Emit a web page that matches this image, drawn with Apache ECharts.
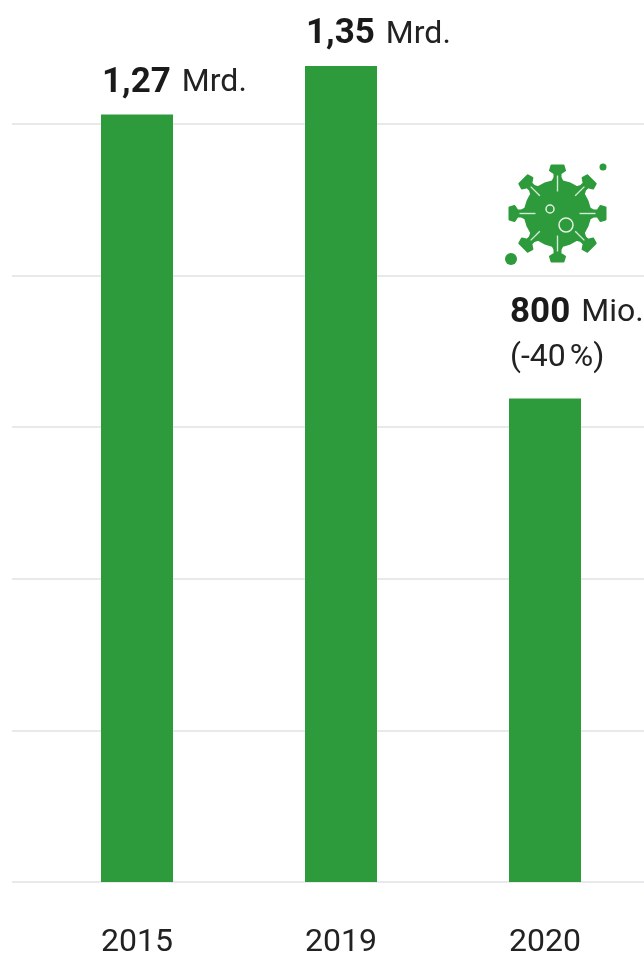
<!DOCTYPE html>
<html><head><meta charset="utf-8">
<style>html,body{margin:0;padding:0;background:#fff}#c{width:644px;height:955px}</style>
<script src="https://cdn.jsdelivr.net/npm/echarts@6/dist/echarts.min.js"></script>
</head><body><div id="c"></div>
<script>
const categories = ['2015', '2019', '2020'];
const values = [1.27, 1.35, 0.8];
const strongLabels = ['1,27', '1,35', '800'];
const unitLabels = ['Mrd.', 'Mrd.', 'Mio.'];
const noteLabels = ['', '', '(-40\u202f%)'];
const GREEN = '#2d9a3b';
const FONT = 'Roboto';

const chart = echarts.init(document.getElementById('c'), null, {renderer: 'canvas'});

const yBase = {type: 'value', min: 0, max: 1.25, interval: 0.25,
  axisLabel: {show: false}, axisLine: {show: false}, axisTick: {show: false}};

// virus icon
const cx = 557.5, cy = 213.5, kids = [];
for (let i = 0; i < 8; i++) {
  const a = i * Math.PI / 4, c = Math.cos(a), s = Math.sin(a);
  const pt = (r, w) => [cx + c * r - s * w, cy + s * r + c * w];
  kids.push({type: 'polygon', shape: {points: [
      pt(28, -7), pt(36, -3), pt(40, -3), pt(43, -7.5), pt(48, -6), pt(48, 6), pt(43, 7.5), pt(40, 3), pt(36, 3), pt(28, 7)
    ]},
    style: {fill: GREEN, stroke: GREEN, lineWidth: 2, lineJoin: 'round'}});
}
kids.push({type: 'circle', shape: {cx, cy, r: 33.5}, style: {fill: GREEN}});
for (let i = 0; i < 8; i++) {
  const a = i * Math.PI / 4, c = Math.cos(a), s = Math.sin(a);
  const inner = i % 2 ? 25 : 22;
  kids.push({type: 'line', shape: {x1: cx + c * inner, y1: cy + s * inner, x2: cx + c * 38, y2: cy + s * 38},
    style: {stroke: '#d3ead7', lineWidth: 1.4}});
}
kids.push({type: 'circle', shape: {cx: 550, cy: 209, r: 4}, style: {fill: GREEN, stroke: '#e2f1e4', lineWidth: 1.5}});
kids.push({type: 'circle', shape: {cx: 566, cy: 225, r: 7}, style: {fill: GREEN, stroke: '#e2f1e4', lineWidth: 1.5}});
kids.push({type: 'circle', shape: {cx: 603, cy: 167, r: 3.5}, style: {fill: GREEN}});
kids.push({type: 'circle', shape: {cx: 511, cy: 259, r: 6}, style: {fill: GREEN}});

chart.setOption({
  animation: false,
  backgroundColor: '#fff',
  grid: [
    {left: 12, right: 0, top: 124, bottom: 73, outerBoundsMode: 'none'},
    {left: 35, width: 612, top: 126.5, bottom: 73, outerBoundsMode: 'none'}
  ],
  xAxis: [
    {type: 'category', gridIndex: 0, data: categories, show: false},
    {type: 'category', gridIndex: 1, data: categories,
      axisLine: {show: false}, axisTick: {show: false},
      axisLabel: {margin: 43, fontFamily: FONT, fontSize: 32, color: '#222', lineHeight: 36, fontWeight: 400}}
  ],
  yAxis: [
    Object.assign({gridIndex: 0, splitLine: {show: true, lineStyle: {color: '#e7e9ea', width: 2}}}, yBase),
    Object.assign({gridIndex: 1, splitLine: {show: false}}, yBase)
  ],
  series: [{
    type: 'bar', xAxisIndex: 1, yAxisIndex: 1, clip: false, barWidth: 72,
    itemStyle: {color: GREEN},
    data: values.map((v, i) => noteLabels[i] ? {value: v, label: {distance: 18}} : v),
    label: {
      show: true, position: 'top', align: 'left', distance: 9, offset: [-35, 0],
      formatter: p => {
        const i = p.dataIndex;
        let t = '{b|' + strongLabels[i] + '}{u|' + unitLabels[i] + '}';
        if (noteLabels[i]) t += '\n{r|' + noteLabels[i] + '}';
        return t;
      },
      rich: {
        b: {fontFamily: FONT, fontWeight: 700, fontSize: 35, color: '#1a1a1a', lineHeight: 45},
        u: {fontFamily: FONT, fontWeight: 400, fontSize: 32, color: '#222', lineHeight: 45, padding: [0, 0, 0, 11]},
        r: {fontFamily: FONT, fontWeight: 400, fontSize: 32, color: '#222', lineHeight: 45}
      }
    }
  }],
  graphic: [{type: 'group', children: kids, silent: true}]
});
</script></body></html>
